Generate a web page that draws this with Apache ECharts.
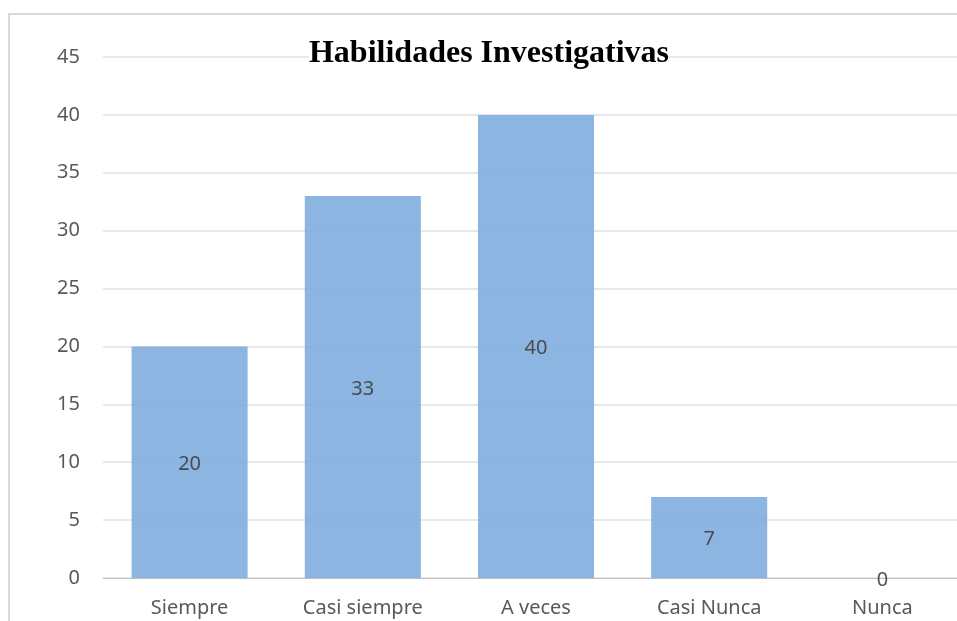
<!DOCTYPE html>
<html><head><meta charset="utf-8">
<script src="https://cdn.jsdelivr.net/npm/echarts@6/dist/echarts.min.js"></script>
<style>html,body{margin:0;padding:0;background:#fff;overflow:hidden;width:957px;height:621px}#c{width:990px;height:621px}</style>
</head><body><div id="c"></div>
<script>
const categories = ["Siempre", "Casi siempre", "A veces", "Casi Nunca", "Nunca"];
const values = [20, 33, 40, 7, 0];
const yTicks = {min: 0, max: 45, interval: 5};
const titleText = "Habilidades Investigativas";

const chart = echarts.init(document.getElementById('c'));
chart.setOption({
  animation: false,
  backgroundColor: '#fff',
  graphic: [{type:'rect', shape:{x:9, y:14, width:1000, height:700}, style:{fill:'none', stroke:'#d9d9d9', lineWidth:2}, z:-1}],
  title: {text: titleText, left: 489, textAlign: 'center', top: 38, backgroundColor:'#fff', padding:[0,0],
    textStyle: {fontFamily: 'Liberation Serif', fontWeight: 'bold', fontSize: 32, color: '#000'}},
  grid: {left: 103, top: 57, width: 866, height: 521},
  xAxis: {type: 'category', data: categories,
    axisLine: {lineStyle: {color: '#bfbfbf', width: 1}}, axisTick: {show: false},
    axisLabel: {fontFamily: 'Noto Sans', fontSize: 20, color: '#595959', margin: 20}},
  yAxis: {type: 'value', min: yTicks.min, max: yTicks.max, interval: yTicks.interval,
    axisLine: {show: false}, axisTick: {show: false},
    splitLine: {lineStyle: {color: '#e0e0e0', width: 1.5}},
    axisLabel: {fontFamily: 'Noto Sans', fontSize: 20, color: '#595959', margin: 23}},
  series: [{type: 'bar', data: values, barCategoryGap: '33%',
    itemStyle: {color: '#7faede', opacity: 0.9},
    label: {show: true, position: 'inside', offset: [0, 2], fontFamily: 'Noto Sans', fontSize: 20, color: '#404040'}}]
});
</script></body></html>
